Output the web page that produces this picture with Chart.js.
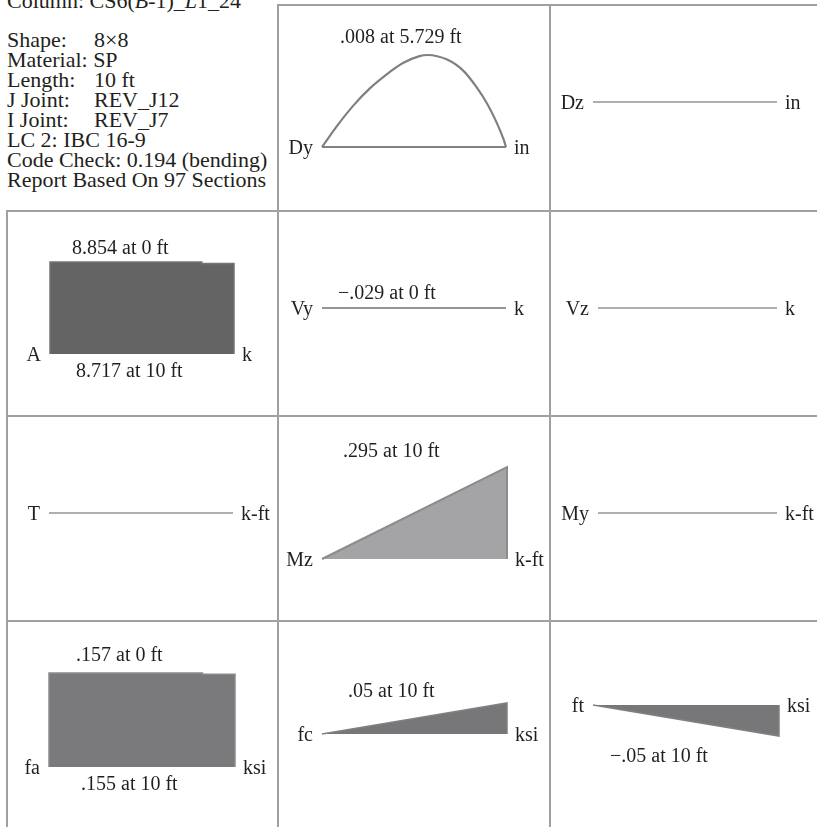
<!DOCTYPE html>
<html>
<head>
<meta charset="utf-8">
<script src="https://cdn.jsdelivr.net/npm/chart.js@4"></script>
<style>
  body { margin: 0; width: 817px; height: 827px; overflow: hidden; background: #fff; position: relative;
         font-family: "Liberation Serif", serif; color: #231f20; }
  .rule { position: absolute; background: #a0a0a0; }
  .cell { position: absolute; }
  #title, #info { position: absolute; left: 7px; font-size: 22px; line-height: 20px; white-space: nowrap; }
  #title { top: -9px; }
  #info { top: 30px; }
  .tab { display: inline-block; width: 87px; }
</style>
</head>
<body>
<div id="title">Column: CS6(<i>B</i>-1)_<i>L</i>1_24</div>
<div id="info">
  <div><span class="tab">Shape:</span>8×8</div>
  <div>Material: SP</div>
  <div><span class="tab">Length:</span>10 ft</div>
  <div><span class="tab">J Joint:</span>REV_J12</div>
  <div><span class="tab">I Joint:</span>REV_J7</div>
  <div>LC 2: IBC 16-9</div>
  <div>Code Check: 0.194 (bending)</div>
  <div>Report Based On 97 Sections</div>
</div>
<script>
// member stations (ft)
const xFt = [0, 10];
const flat = [0, 0];

// Dy deflection (in) along the member
const dyFt = [0, 0.8, 1.7, 2.6, 3.5, 4.4, 5.3, 5.729, 6.8, 7.7, 8.4, 9.0, 9.5, 9.86, 10];
const dyIn = [0, .0018, .0036, .0051, .0063, .0073, .0079, .008, .0076, .0066, .0052, .0037, .0021, .0007, 0];

// axial force A (k) and axial stress fa (ksi)
const axialFt = [0, 8.25, 8.25, 10];
const axialK = [8.854, 8.854, 8.717, 8.717];
const faKsi = [.157, .157, .155, .155];

// bending moment Mz (k-ft) and bending stresses (ksi)
const mzKft = [0, .295];
const fcKsi = [0, .05];
const ftKsi = [0, -.05];

const pts = (xs, ys) => xs.map((x, i) => ({ x, y: ys[i] }));
const closed = (xs, ys) => [{ x: xs[0], y: 0 }, ...pts(xs, ys), { x: xs[xs.length - 1], y: 0 }];
const zeroSet = (w) => ({ data: pts(xFt, flat), color: '#959595', width: w || 1.5 });

// grid rules
[[277, 4, 540, 2], [6, 210, 811, 2], [6, 415, 811, 2], [6, 620, 811, 2],
 [6, 210, 2, 617], [277, 4, 2, 823], [549, 4, 2, 823]].forEach(([l, t, w, h]) => {
  const d = document.createElement('div');
  d.className = 'rule';
  Object.assign(d.style, { left: l + 'px', top: t + 'px', width: w + 'px', height: h + 'px' });
  document.body.appendChild(d);
});

const cells = [
  { box: [278, 5, 272, 206], plot: [322, 506, 55, 147], y: [0, .008], name: 'Dy', unit: 'in',
    sets: [{ data: pts(dyFt, dyIn), color: '#808080', width: 2.2, smooth: true }, { data: pts(xFt, flat), color: '#808080', width: 2.2 }],
    notes: [{ text: '.008 at 5.729 ft', at: .008, dx: 18, dy: -12 }] },
  { box: [550, 5, 267, 206], plot: [593, 777, 82, 122], y: [-1, 1], name: 'Dz', unit: 'in',
    sets: [zeroSet()], notes: [] },
  { box: [7, 211, 271, 205], plot: [50, 234, 262, 354], y: [0, 8.854], name: 'A', unit: 'k',
    sets: [{ data: closed(axialFt, axialK), fill: '#646464', color: '#747474', width: 1.5 }],
    notes: [{ text: '8.854 at 0 ft', at: 8.854, dx: 22, dy: -8 }, { text: '8.717 at 10 ft', at: 0, dx: 26, dy: 23 }] },
  { box: [278, 211, 272, 205], plot: [322, 506, 288, 328], y: [-1, 1], name: 'Vy', unit: 'k',
    sets: [zeroSet(2)], notes: [{ text: '\u2212.029 at 0 ft', at: 0, dx: 16, dy: -9 }] },
  { box: [550, 211, 267, 205], plot: [598, 777, 288, 328], y: [-1, 1], name: 'Vz', unit: 'k',
    sets: [zeroSet()], notes: [] },
  { box: [7, 416, 271, 205], plot: [49, 233, 493, 533], y: [-1, 1], name: 'T', unit: 'k-ft',
    sets: [zeroSet()], notes: [] },
  { box: [278, 416, 272, 205], plot: [322, 507, 467, 559], y: [0, .295], name: 'Mz', unit: 'k-ft',
    sets: [{ data: closed(xFt, mzKft), fill: '#a4a4a6', color: '#8c8c8c', width: 2 }],
    notes: [{ text: '.295 at 10 ft', at: .295, dx: 21, dy: -10 }] },
  { box: [550, 416, 267, 205], plot: [598, 777, 493, 533], y: [-1, 1], name: 'My', unit: 'k-ft',
    sets: [zeroSet()], notes: [] },
  { box: [7, 621, 271, 206], plot: [49, 235, 673, 767], y: [0, .157], name: 'fa', unit: 'ksi',
    sets: [{ data: closed(axialFt, faKsi), fill: '#7a7a7c', color: '#8a8a8a', width: 1.5 }],
    notes: [{ text: '.157 at 0 ft', at: .157, dx: 27, dy: -12 }, { text: '.155 at 10 ft', at: 0, dx: 32, dy: 23 }] },
  { box: [278, 621, 272, 206], plot: [322, 507, 703, 734], y: [0, .05], name: 'fc', unit: 'ksi',
    sets: [{ data: closed(xFt, fcKsi), fill: '#77777a', color: '#808080', width: 1.5 }],
    notes: [{ text: '.05 at 10 ft', at: .05, dx: 26, dy: -6 }] },
  { box: [550, 621, 267, 206], plot: [593, 779, 705, 736], y: [-.05, 0], name: 'ft', unit: 'ksi',
    sets: [{ data: closed(xFt, ftKsi), fill: '#77777a', color: '#808080', width: 1.5 }],
    notes: [{ text: '\u2212.05 at 10 ft', at: -.05, dx: 17, dy: 26 }] }
];

// names, units and max/min notes around each diagram
const cellLabels = {
  id: 'cellLabels',
  afterDatasetsDraw(chart, args, opts) {
    const { ctx, chartArea, scales: { y } } = chart;
    const zeroY = y.getPixelForValue(0);
    ctx.save();
    ctx.font = '20px "Liberation Serif"';
    ctx.fillStyle = '#231f20';
    ctx.textAlign = 'right';
    ctx.fillText(opts.name, chartArea.left - 9, zeroY + 7);
    ctx.textAlign = 'left';
    ctx.fillText(opts.unit, chartArea.right + 8, zeroY + 7);
    opts.notes.forEach(n => ctx.fillText(n.text, chartArea.left + n.dx, y.getPixelForValue(n.at) + n.dy));
    ctx.restore();
  }
};

cells.forEach(c => {
  const [left, top, w, h] = c.box;
  const [x0, x1, yTop, yBot] = c.plot;
  const canvas = document.createElement('canvas');
  canvas.className = 'cell';
  canvas.width = w;
  canvas.height = h;
  canvas.style.left = left + 'px';
  canvas.style.top = top + 'px';
  document.body.appendChild(canvas);

  new Chart(canvas.getContext('2d'), {
    type: 'line',
    data: {
      datasets: c.sets.map(s => ({
        data: s.data,
        borderColor: s.color,
        borderWidth: s.width,
        backgroundColor: s.fill || 'transparent',
        fill: s.fill ? 'origin' : false,
        pointRadius: 0,
        cubicInterpolationMode: s.smooth ? 'monotone' : 'default',
        tension: 0,
        clip: false
      }))
    },
    options: {
      responsive: false,
      animation: false,
      layout: { padding: { left: x0 - left, right: left + w - x1, top: yTop - top, bottom: top + h - yBot } },
      scales: {
        x: { type: 'linear', min: 0, max: 10, display: false },
        y: { min: c.y[0], max: c.y[1], display: false }
      },
      plugins: {
        legend: { display: false },
        tooltip: { enabled: false },
        cellLabels: { name: c.name, unit: c.unit, notes: c.notes }
      }
    },
    plugins: [cellLabels]
  });
});
</script>
</body>
</html>
